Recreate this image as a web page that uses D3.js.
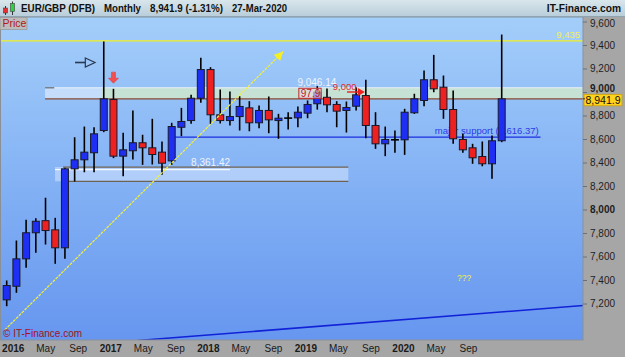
<!DOCTYPE html>
<html>
<head>
<meta charset="utf-8">
<script src="https://cdnjs.cloudflare.com/ajax/libs/d3/7.8.5/d3.min.js"></script>
<style>
  body { margin: 0; background: #a6a6a6; }
  svg text { font-family: "Liberation Sans", Arial, sans-serif; }
</style>
</head>
<body>
<div id="chart"></div>
<script>
// EUR/GBP (DFB) monthly candles, Dec 2015 - Mar 2020 (values x10000)
const months = [
  '2015-12',
  '2016-01','2016-02','2016-03','2016-04','2016-05','2016-06','2016-07','2016-08','2016-09','2016-10','2016-11','2016-12',
  '2017-01','2017-02','2017-03','2017-04','2017-05','2017-06','2017-07','2017-08','2017-09','2017-10','2017-11','2017-12',
  '2018-01','2018-02','2018-03','2018-04','2018-05','2018-06','2018-07','2018-08','2018-09','2018-10','2018-11','2018-12',
  '2019-01','2019-02','2019-03','2019-04','2019-05','2019-06','2019-07','2019-08','2019-09','2019-10','2019-11','2019-12',
  '2020-01','2020-02','2020-03'
];
const opens  = [7231,7347,7580,7802,7905,7827,7674,8346,8423,8483,8672,8936,8454,8500,8568,8525,8488,8414,8700,8757,8947,9191,8806,8757,8791,8865,8738,8843,8757,8778,8780,8820,8900,8955,8894,8843,8879,8970,8715,8559,8593,8593,8823,8928,9104,9041,8851,8596,8525,8451,8389,8585];
const highs  = [7396,7736,7912,7926,8100,7929,8355,8615,8706,8700,9430,9027,8653,8843,8636,8772,8579,8738,8865,8976,9291,9211,9021,9004,8964,8922,8885,8962,8814,8828,8877,8928,9050,9030,8922,8919,9041,9104,8828,8706,8672,8857,8985,9183,9316,9140,9013,8644,8559,8579,8630,9489];
const lows   = [7177,7291,7504,7631,7702,7538,7580,8238,8317,8317,8658,8437,8283,8425,8380,8383,8295,8380,8624,8729,8908,8729,8732,8715,8672,8666,8692,8649,8602,8681,8700,8777,8850,8828,8700,8655,8843,8607,8516,8454,8482,8465,8814,8879,8998,8772,8559,8482,8389,8368,8261,8573];
const closes = [7353,7580,7802,7900,7821,7674,8346,8423,8488,8644,8942,8454,8508,8568,8525,8468,8394,8706,8749,8947,9191,8806,8757,8791,8877,8738,8843,8763,8777,8778,8828,8894,8998,8891,8837,8868,8976,8715,8559,8596,8593,8828,8942,9104,9027,8851,8602,8508,8440,8389,8585,8941.9];

// price axis ticks
const yTicks = [7200,7400,7600,7800,8000,8200,8400,8600,8800,9000,9200,9400,9600];
const yBoldTicks = [8000, 9000];

// time axis labels (months counted from Jan 2016)
const xTickMonths = [0,4,8,12,16,20,24,28,32,36,40,44,48,52,56];
const xTickLabels = ['2016','May','Sep','2017','May','Sep','2018','May','Sep','2019','May','Sep','2020','May','Sep'];

// drawn levels / objects (candle index, price)
const lastPrice = 8941.9;
const highLevel = 9435;
const upperZone = [9036, 8941.9];
const lowerZone = [8361.42, 8240];
const supportLevel = 8616.37;
const trendLine = [[-0.2, 6975], [28.5, 9345]];
const channelLine = [[13.5, 6885], [59.4, 7183]];

const W = 625, H = 357;
const plot = { left: 0, right: 583, top: 17, bottom: 340 };

const svg = d3.select('#chart').append('svg')
  .attr('width', W).attr('height', H);

const defs = svg.append('defs');
const bg = defs.append('linearGradient').attr('id', 'bg')
  .attr('x1', 0).attr('x2', 0).attr('y1', 0).attr('y2', 1);
bg.append('stop').attr('offset', '0%').attr('stop-color', '#a3cefa');
bg.append('stop').attr('offset', '100%').attr('stop-color', '#6696ef');
const hd = defs.append('linearGradient').attr('id', 'hd')
  .attr('x1', 0).attr('x2', 0).attr('y1', 0).attr('y2', 1);
hd.append('stop').attr('offset', '0%').attr('stop-color', '#d9e6ec');
hd.append('stop').attr('offset', '100%').attr('stop-color', '#b7cdd9');
defs.append('clipPath').attr('id', 'clip').append('rect')
  .attr('x', plot.left).attr('y', plot.top)
  .attr('width', plot.right - plot.left).attr('height', plot.bottom - plot.top);

// scales
const xi = d3.scaleLinear().domain([0, months.length - 1]).range([6.7, 501.7]);
const y = d3.scaleLinear().domain([7200, 9600]).range([303.5, 21.5]);
const xl = d3.scaleLinear().domain([0, 56]).range([12.7, 468]);

// panels
svg.append('rect').attr('x', 0).attr('y', 0).attr('width', W).attr('height', H).attr('fill', '#a6a6a6');
svg.append('rect')
  .attr('x', plot.left).attr('y', plot.top)
  .attr('width', plot.right - plot.left).attr('height', plot.bottom - plot.top)
  .attr('fill', 'url(#bg)');

const g = svg.append('g').attr('clip-path', 'url(#clip)');

// lower zone
g.append('rect')
  .attr('x', xi(4.98)).attr('y', y(lowerZone[0]))
  .attr('width', xi(35.2) - xi(4.98)).attr('height', y(lowerZone[1]) - y(lowerZone[0]))
  .attr('fill', 'rgba(228,240,255,0.45)');
g.append('line')
  .attr('x1', xi(5.8)).attr('x2', xi(35.2))
  .attr('y1', y(lowerZone[0])).attr('y2', y(lowerZone[0]))
  .attr('stroke', '#6e6252').attr('stroke-width', 1.2);
g.append('line')
  .attr('x1', xi(6)).attr('x2', xi(35.2))
  .attr('y1', y(lowerZone[1])).attr('y2', y(lowerZone[1]))
  .attr('stroke', '#6e6252').attr('stroke-width', 1.2);
g.append('line')
  .attr('x1', xi(4.98)).attr('x2', xi(23))
  .attr('y1', y(lowerZone[0]) + 2.5).attr('y2', y(lowerZone[0]) + 2.5)
  .attr('stroke', '#f4f8ff').attr('stroke-width', 1.2);
g.append('text')
  .attr('x', xi(19)).attr('y', y(lowerZone[0]) - 1.5)
  .attr('font-size', 10).attr('fill', '#eef4ff')
  .text(d3.format(',.2f')(lowerZone[0]));

// upper zone
g.append('rect')
  .attr('x', xi(3.95)).attr('y', y(upperZone[0]))
  .attr('width', plot.right - xi(3.95)).attr('height', y(upperZone[1]) - y(upperZone[0]))
  .attr('fill', 'rgba(236,244,255,0.55)');
g.append('rect')
  .attr('x', xi(9.8)).attr('y', y(upperZone[0]))
  .attr('width', plot.right - xi(9.8)).attr('height', y(upperZone[1]) - y(upperZone[0]))
  .attr('fill', 'rgba(196,228,196,0.7)');
g.append('line')
  .attr('x1', xi(3.95)).attr('x2', plot.right)
  .attr('y1', y(upperZone[0])).attr('y2', y(upperZone[0]))
  .attr('stroke', '#e8f0f8').attr('stroke-width', 1);
g.append('line')
  .attr('x1', xi(3.95)).attr('x2', xi(4.9))
  .attr('y1', y(upperZone[0])).attr('y2', y(upperZone[0]))
  .attr('stroke', '#7a8088').attr('stroke-width', 1.5);
g.append('line')
  .attr('x1', xi(3.95)).attr('x2', plot.right)
  .attr('y1', y(lastPrice)).attr('y2', y(lastPrice))
  .attr('stroke', '#8a4a30').attr('stroke-width', 1.3);

// support line
g.append('line')
  .attr('x1', xi(17.36)).attr('x2', xi(55))
  .attr('y1', y(supportLevel)).attr('y2', y(supportLevel))
  .attr('stroke', '#1a2ee0').attr('stroke-width', 1.3);
g.append('text')
  .attr('x', xi(44.1)).attr('y', y(supportLevel) - 3)
  .attr('font-size', 9.5).attr('fill', '#2a3ae8')
  .text('major  support (' + d3.format(',.2f')(supportLevel) + ')');

// 9,435 line
g.append('line')
  .attr('x1', plot.left).attr('x2', plot.right)
  .attr('y1', y(highLevel)).attr('y2', y(highLevel))
  .attr('stroke', '#f2f020').attr('stroke-width', 1.3);
g.append('text')
  .attr('x', 580).attr('y', y(highLevel) - 2.5)
  .attr('text-anchor', 'end').attr('font-size', 9.5).attr('fill', '#f4f050')
  .text(d3.format(',')(highLevel));

// channel line at the bottom
g.append('line')
  .attr('x1', xi(channelLine[0][0])).attr('y1', y(channelLine[0][1]))
  .attr('x2', xi(channelLine[1][0])).attr('y2', y(channelLine[1][1]))
  .attr('stroke', '#1222d8').attr('stroke-width', 1.5);

// candles
const candles = months.map((m, i) => ({ m, i, o: opens[i], h: highs[i], l: lows[i], c: closes[i] }));
const bodyW = 7;
const cg = g.append('g');
cg.selectAll('.wick').data(candles).enter().append('line')
  .attr('class', 'wick')
  .attr('x1', d => xi(d.i)).attr('x2', d => xi(d.i))
  .attr('y1', d => y(d.h)).attr('y2', d => y(d.l))
  .attr('stroke', '#000').attr('stroke-width', 1.6);
cg.selectAll('.body').data(candles.filter(d => d.o !== d.c)).enter().append('rect')
  .attr('class', 'body')
  .attr('x', d => xi(d.i) - bodyW / 2)
  .attr('y', d => y(Math.max(d.o, d.c)))
  .attr('width', bodyW)
  .attr('height', d => Math.max(1, Math.abs(y(d.o) - y(d.c))))
  .attr('fill', d => d.c > d.o ? '#1e2ef2' : '#ee2020')
  .attr('stroke', '#1a1a2a').attr('stroke-width', 1);
cg.selectAll('.doji').data(candles.filter(d => d.o === d.c)).enter().append('line')
  .attr('class', 'doji')
  .attr('x1', d => xi(d.i) - bodyW / 2 - 0.5).attr('x2', d => xi(d.i) + bodyW / 2 + 0.5)
  .attr('y1', d => y(d.c)).attr('y2', d => y(d.c))
  .attr('stroke', '#000').attr('stroke-width', 1.6);

// yellow trend line with arrow
const t0 = [xi(trendLine[0][0]), y(trendLine[0][1])];
const t1 = [xi(trendLine[1][0]), y(trendLine[1][1])];
g.append('line')
  .attr('x1', t0[0]).attr('y1', t0[1]).attr('x2', t1[0]).attr('y2', t1[1])
  .attr('stroke', '#f2f040').attr('stroke-width', 1.2).attr('stroke-dasharray', '3,1');
{
  const ang = Math.atan2(t1[1] - t0[1], t1[0] - t0[0]);
  const L = 9, Wd = 4.5;
  const bx = t1[0] - L * Math.cos(ang), by = t1[1] - L * Math.sin(ang);
  const px = -Math.sin(ang) * Wd, py = Math.cos(ang) * Wd;
  g.append('path')
    .attr('d', `M${t1[0]},${t1[1]}L${bx + px},${by + py}L${bx - px},${by - py}Z`)
    .attr('fill', '#f6f020');
}

// outline arrow pointing at the spike
{
  const ax0 = xi(7.04), ax1 = xi(8.1), ax2 = xi(9.1), ay = y(9251);
  g.append('line').attr('x1', ax0).attr('x2', ax1).attr('y1', ay).attr('y2', ay)
    .attr('stroke', '#2a3850').attr('stroke-width', 1.6);
  g.append('path')
    .attr('d', `M${ax1},${ay - 4.5}L${ax2},${ay}L${ax1},${ay + 4.5}Z`)
    .attr('fill', 'none').attr('stroke', '#2a3850').attr('stroke-width', 1.2);
}

// red down arrow above Nov 2016
{
  const ax = xi(11), top = y(9169), bot = y(9075);
  g.append('path')
    .attr('d', `M${ax - 2},${top}L${ax + 2},${top}L${ax + 2},${bot - 5}L${ax + 5},${bot - 5}L${ax},${bot}L${ax - 5},${bot - 5}L${ax - 2},${bot - 5}Z`)
    .attr('fill', '#f05050').attr('stroke', '#e04040').attr('stroke-width', 0.6);
}

// 9,046.14 / 97.9 / 9,000 labels
g.append('text')
  .attr('x', xi(29.95)).attr('y', y(9046.14) - 1)
  .attr('font-size', 10).attr('fill', '#eef3ff')
  .text('9,046.14');
g.append('rect')
  .attr('x', xi(30.1)).attr('y', y(upperZone[0]) + 0.5)
  .attr('width', xi(32.4) - xi(30.1)).attr('height', y(upperZone[1]) - y(upperZone[0]) - 1)
  .attr('fill', 'rgba(235,215,225,0.65)').attr('stroke', '#c02a2a').attr('stroke-width', 1);
g.append('text')
  .attr('x', xi(30.3)).attr('y', y(upperZone[1]) - 2)
  .attr('font-size', 10).attr('fill', '#b82020')
  .text('97.9');
g.append('text')
  .attr('x', xi(33.6)).attr('y', y(9020))
  .attr('font-size', 9.5).attr('fill', '#e02828')
  .text('9,000');
{
  const ax0 = xi(35.06), ax1 = xi(36.9), ay = y(9000);
  g.append('line').attr('x1', ax0).attr('x2', ax1 - 6).attr('y1', ay).attr('y2', ay)
    .attr('stroke', '#ee2020').attr('stroke-width', 1.4);
  g.append('path')
    .attr('d', `M${ax1},${ay}L${ax1 - 7},${ay - 4}L${ax1 - 7},${ay + 4}Z`)
    .attr('fill', '#ee2020');
}

// ??? note
g.append('text')
  .attr('x', xi(46.4)).attr('y', y(7421) + 3)
  .attr('font-size', 8.5).attr('fill', '#f4f040')
  .text('???');

// copyright
svg.append('text')
  .attr('x', 3).attr('y', 337)
  .attr('font-size', 10).attr('fill', '#a01418')
  .text('\u00a9 IT-Finance.com');

// plot border
svg.append('rect')
  .attr('x', 0.5).attr('y', plot.top)
  .attr('width', plot.right - 0.5).attr('height', plot.bottom - plot.top)
  .attr('fill', 'none').attr('stroke', '#8a9098').attr('stroke-width', 1);

// right price axis
const yAxis = svg.append('g')
  .attr('transform', `translate(${plot.right},0)`)
  .call(d3.axisRight(y).tickValues(yTicks).tickFormat(d3.format(',')).tickSize(4).tickPadding(3));
yAxis.select('.domain').remove();
yAxis.selectAll('line').attr('stroke', '#6a7078');
yAxis.selectAll('text')
  .attr('font-size', 10).attr('fill', '#1e1e1e')
  .attr('font-family', '"Liberation Sans", Arial, sans-serif')
  .attr('font-weight', d => yBoldTicks.includes(d) ? 'bold' : 'normal')
  .attr('dy', d => d === 9000 ? '-0.05em' : (d === 9600 ? '0.5em' : '0.32em'));

// last price label
svg.append('rect')
  .attr('x', 584).attr('y', y(lastPrice) - 4.5)
  .attr('width', 38).attr('height', 11.5)
  .attr('fill', '#ffd21c').attr('stroke', '#c8a010').attr('stroke-width', 0.8);
svg.append('line')
  .attr('x1', plot.right).attr('x2', 585).attr('y1', y(lastPrice)).attr('y2', y(lastPrice))
  .attr('stroke', '#333').attr('stroke-width', 1);
svg.append('text')
  .attr('x', 603).attr('y', y(lastPrice) + 4.8)
  .attr('text-anchor', 'middle').attr('font-size', 10.5).attr('fill', '#111')
  .text(d3.format(',.1f')(lastPrice));

// bottom time axis
const xAxis = svg.append('g')
  .attr('transform', `translate(0,${plot.bottom})`)
  .call(d3.axisBottom(xl).tickValues(xTickMonths).tickFormat((d, i) => xTickLabels[i]).tickSize(0).tickPadding(5));
xAxis.select('.domain').remove();
xAxis.selectAll('text')
  .attr('font-size', 10).attr('fill', '#1a1a1a')
  .attr('font-family', '"Liberation Sans", Arial, sans-serif')
  .attr('font-weight', (d, i) => /^\d+$/.test(xTickLabels[i]) ? 'bold' : 'normal');

// header
svg.append('rect').attr('x', 0).attr('y', 0).attr('width', W).attr('height', plot.top)
  .attr('fill', 'url(#hd)');
svg.append('line').attr('x1', 0).attr('x2', W).attr('y1', plot.top - 0.5).attr('y2', plot.top - 0.5)
  .attr('stroke', '#8fa4b0').attr('stroke-width', 1);
// small candle icon
svg.append('line').attr('x1', 5.5).attr('x2', 5.5).attr('y1', 6).attr('y2', 15).attr('stroke', '#333');
svg.append('rect').attr('x', 3.5).attr('y', 8).attr('width', 4).attr('height', 5).attr('fill', '#e83030').attr('stroke', '#444').attr('stroke-width', 0.6);
svg.append('line').attr('x1', 12.5).attr('x2', 12.5).attr('y1', 1.5).attr('y2', 15).attr('stroke', '#333');
svg.append('rect').attr('x', 10.5).attr('y', 3.5).attr('width', 4).attr('height', 8).attr('fill', '#30d040').attr('stroke', '#444').attr('stroke-width', 0.6);

const headerItems = [
  { x: 21, w: 74, t: 'EUR/GBP (DFB)' },
  { x: 104, w: 37, t: 'Monthly' },
  { x: 150, w: 73, t: '8,941.9 (-1.31%)' },
  { x: 232, w: 55, t: '27-Mar-2020' }
];
svg.selectAll('.hdr').data(headerItems).enter().append('text')
  .attr('class', 'hdr')
  .attr('x', d => d.x).attr('y', 12)
  .attr('textLength', d => d.w).attr('lengthAdjust', 'spacingAndGlyphs')
  .attr('font-size', 11).attr('font-weight', 'bold').attr('fill', '#111')
  .text(d => d.t);
svg.append('text')
  .attr('x', 621).attr('y', 12).attr('text-anchor', 'end')
  .attr('font-size', 10.2).attr('font-weight', 'bold').attr('fill', '#111')
  .text('IT-Finance.com');

// "Price" tag
svg.append('rect').attr('x', 0).attr('y', plot.top + 0.5).attr('width', 27).attr('height', 12)
  .attr('fill', '#bcbcbc').attr('stroke', '#9a9a9a').attr('stroke-width', 0.8);
svg.append('text').attr('x', 2.5).attr('y', plot.top + 10)
  .attr('font-size', 10.5).attr('fill', '#b01818')
  .text('Price');
</script>
</body>
</html>
